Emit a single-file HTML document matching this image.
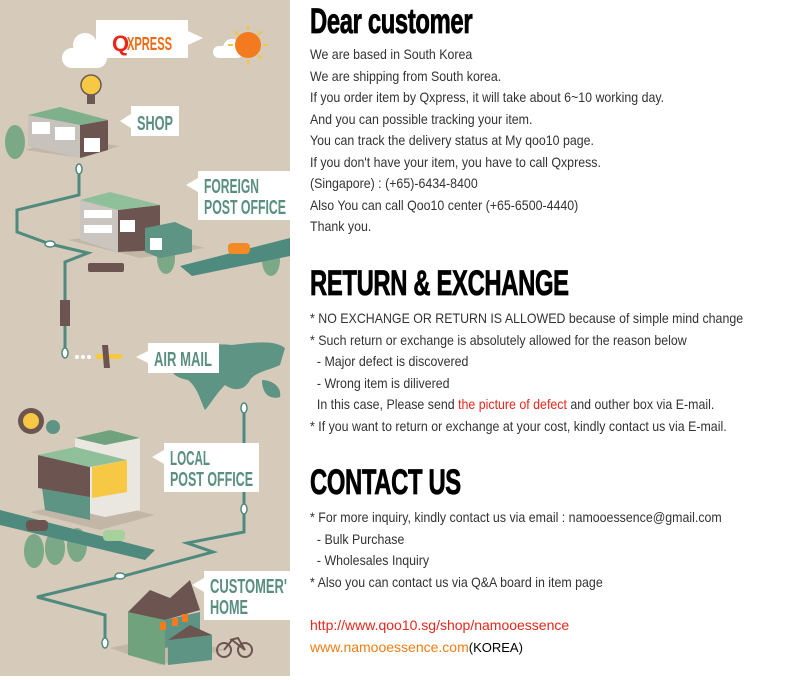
<!DOCTYPE html>
<html><head><meta charset="utf-8">
<style>
html,body{margin:0;padding:0;background:#fff;}
body{width:800px;height:676px;position:relative;overflow:hidden;font-family:"Liberation Sans",sans-serif;}
#left{position:absolute;left:0;top:0;width:290px;height:676px;background:#d6cbba;}
.h{position:absolute;left:310px;font-family:"Liberation Sans",sans-serif;font-weight:bold;font-size:35px;line-height:40px;color:#000;transform:scaleX(0.68);transform-origin:left top;white-space:nowrap;letter-spacing:-0.5px;-webkit-text-stroke:0.8px #000;}
.t{position:absolute;left:310px;font-size:14px;line-height:21.5px;color:#333;white-space:pre;transform:scaleX(0.885);transform-origin:left top;}
.red{color:#e8261a}
.or{color:#ef7d12}
</style></head><body>
<div id="left">
<svg width="290" height="676" viewBox="0 0 290 676" xmlns="http://www.w3.org/2000/svg">
<g fill="#5e9484"><path d="M170,362 C180,350 205,342 232,345 C255,342 275,340 285,348 L280,365 C270,370 255,372 250,380 C245,390 235,392 225,385 C215,395 210,405 205,410 C200,400 198,388 188,380 C178,378 170,375 170,362Z"/><path d="M262,380 C272,380 282,387 280,397 C270,400 262,394 262,380Z"/></g>
<g fill="none" stroke="#4f8a7f" stroke-width="3">
<polyline points="79,172 79,195 17,210 17,232 50,244 88,253 65,262 65,352"/>
<polyline points="244,410 244,532 187,543 213,552 120,577 37,597 105,615 105,643"/>
</g>
<g fill="#fff" stroke="#4f8a7f" stroke-width="1.5">
<ellipse cx="79" cy="169" rx="3" ry="5"/>
<ellipse cx="50" cy="244" rx="5" ry="3"/>
<ellipse cx="65" cy="353" rx="3" ry="5"/>
<ellipse cx="244" cy="408" rx="3" ry="5"/>
<ellipse cx="244" cy="509" rx="3" ry="5"/>
<ellipse cx="120" cy="576" rx="5" ry="3"/>
<ellipse cx="105" cy="643" rx="3" ry="5"/>
</g>
<g fill="#fff"><circle cx="85" cy="45" r="12"/><rect x="62" y="48" width="45" height="20" rx="10"/>
<circle cx="232" cy="48" r="9"/><rect x="213" y="46" width="30" height="12" rx="6"/></g>
<circle cx="248" cy="45" r="13" fill="#f47a20"/>
<g stroke="#f5c542" stroke-width="2"><line x1="248" y1="25" x2="248" y2="30"/><line x1="248" y1="60" x2="248" y2="65"/><line x1="228" y1="45" x2="233" y2="45"/><line x1="263" y1="45" x2="268" y2="45"/><line x1="234" y1="31" x2="238" y2="35"/><line x1="258" y1="55" x2="262" y2="59"/><line x1="262" y1="31" x2="258" y2="35"/></g>
<circle cx="91" cy="85" r="10" fill="#f6c844" stroke="#6b5a54" stroke-width="1.5"/><rect x="87" y="95" width="8" height="9" fill="#6b5a54"/>
<g fill="#fff">
<rect x="96" y="20" width="92" height="38"/><polygon points="188,31 203,38 188,45"/>
<rect x="131" y="106" width="48" height="30"/><polygon points="131,114 120,121 131,128"/>
<rect x="198" y="171" width="92" height="49"/><polygon points="198,178 186,185 198,192"/>
<rect x="148" y="343" width="71" height="30"/><polygon points="148,351 136,357 148,363"/>
<rect x="164" y="443" width="95" height="49"/><polygon points="164,450 152,457 164,464"/>
<rect x="204" y="571" width="86" height="49"/><polygon points="204,578 192,585 204,592"/>
</g>
<g font-family="Liberation Sans, sans-serif" font-weight="bold" fill="#5a8f80">
<text x="112" y="51" font-size="22" fill="#e8261a">Q</text><text x="127" y="50" font-size="18" fill="#ef6a12" textLength="45" lengthAdjust="spacingAndGlyphs">XPRESS</text>
<text x="137" y="130" font-size="20" textLength="36" lengthAdjust="spacingAndGlyphs">SHOP</text>
<text x="204" y="193" font-size="20" textLength="55" lengthAdjust="spacingAndGlyphs">FOREIGN</text>
<text x="204" y="214" font-size="20" textLength="82" lengthAdjust="spacingAndGlyphs">POST OFFICE</text>
<text x="154" y="366" font-size="20" textLength="58" lengthAdjust="spacingAndGlyphs">AIR MAIL</text>
<text x="170" y="465" font-size="20" textLength="40" lengthAdjust="spacingAndGlyphs">LOCAL</text>
<text x="170" y="486" font-size="20" textLength="83" lengthAdjust="spacingAndGlyphs">POST OFFICE</text>
<text x="210" y="593" font-size="20" textLength="77" lengthAdjust="spacingAndGlyphs">CUSTOMER'</text>
<text x="210" y="614" font-size="20" textLength="38" lengthAdjust="spacingAndGlyphs">HOME</text>
</g>
<polygon points="25,150 82,158 120,146 60,138" fill="#c2b7a6"/>
<polygon points="28,115 80,125 80,158 28,146" fill="#c8c2bc"/>
<polygon points="80,125 108,120 108,150 80,158" fill="#6c5550"/>
<polygon points="28,115 60,107 108,120 80,125" fill="#7fb08c"/>
<g fill="#fff"><rect x="32" y="122" width="18" height="12"/><rect x="55" y="127" width="20" height="13"/><rect x="84" y="138" width="16" height="14"/></g>
<g fill="#7ba887"><ellipse cx="15" cy="142" rx="10" ry="17"/><ellipse cx="166" cy="258" rx="9" ry="16"/><ellipse cx="271" cy="260" rx="9" ry="16"/><ellipse cx="34" cy="551" rx="10" ry="17"/><ellipse cx="55" cy="548" rx="10" ry="17"/><ellipse cx="77" cy="545" rx="10" ry="17"/></g>
<polygon points="68,240 140,258 205,248 135,230" fill="#c2b7a6"/>
<polygon points="80,200 118,210 118,252 80,240" fill="#cbc5bf"/>
<polygon points="118,210 160,205 160,250 118,252" fill="#6c5550"/>
<polygon points="80,200 110,192 160,205 118,210" fill="#8fc09a"/>
<polygon points="145,228 175,222 192,230 192,252 160,258 145,252" fill="#5e9484"/>
<g fill="#fff"><rect x="84" y="210" width="28" height="8"/><rect x="84" y="225" width="28" height="8"/><rect x="120" y="220" width="15" height="12"/><rect x="150" y="238" width="12" height="12"/></g>
<polygon points="180,266 290,238 290,256 192,276" fill="#4f8a7f"/>
<rect x="228" y="243" width="22" height="11" rx="4" fill="#f28a25"/>
<rect x="88" y="263" width="36" height="9" rx="2" fill="#6c5550"/>
<rect x="60" y="300" width="10" height="26" fill="#6c5550"/>
<g fill="#fff"><circle cx="77" cy="357" r="2"/><circle cx="83" cy="357" r="2"/><circle cx="89" cy="357" r="2"/></g>
<rect x="96" y="354" width="26" height="5" fill="#f6c844"/><polygon points="102,345 108,345 110,368 104,368" fill="#6c5550"/>
<circle cx="31" cy="421" r="13" fill="#6c5550"/><circle cx="31" cy="421" r="8" fill="#f6c844"/><circle cx="53" cy="427" r="7" fill="#5e9484"/>
<polygon points="30,512 100,530 155,515 90,500" fill="#c2b7a6"/>
<polygon points="75,438 110,430 140,438 140,510 105,517 75,510" fill="#e9e7e0"/>
<polygon points="75,438 110,430 140,438 105,445" fill="#6fa27d"/>
<polygon points="38,458 90,470 90,520 45,510" fill="#5e9484"/>
<polygon points="38,455 90,467 90,497 38,488" fill="#6c5550"/>
<polygon points="38,455 75,447 127,460 90,467" fill="#8fc09a"/>
<polygon points="92,467 127,460 127,492 92,498" fill="#f6c844"/>
<polygon points="0,510 155,550 145,560 0,525" fill="#4f8a7f"/>
<rect x="26" y="520" width="22" height="11" rx="4" fill="#6c5550"/>
<rect x="103" y="530" width="22" height="11" rx="4" fill="#a7d19c"/>
<polygon points="110,648 160,665 225,650 170,635" fill="#c2b7a6"/>
<polygon points="128,612 165,602 165,665 128,655" fill="#6fa27d"/>
<polygon points="128,612 150,590 170,598 190,580 200,610 165,620" fill="#6c5550"/>
<polygon points="165,620 200,612 200,640 165,648" fill="#5e9484"/>
<polygon points="168,640 190,625 212,635 212,660 168,665" fill="#5e9484"/>
<polygon points="168,640 190,625 212,635" fill="#6c5550"/>
<g fill="#f47a20"><rect x="160" y="622" width="6" height="8"/><rect x="172" y="618" width="6" height="8"/><rect x="182" y="614" width="6" height="8"/></g>
<g fill="none" stroke="#6c5550" stroke-width="2"><circle cx="224" cy="650" r="7"/><circle cx="245" cy="650" r="7"/><polyline points="224,650 232,640 245,650 238,638 230,640"/></g>
</svg>
</div>

<div class="h" style="top:2px;">Dear customer</div>
<div class="t" style="top:44px;">We are based in South Korea
We are shipping from South korea.
If you order item by Qxpress, it will take about 6~10 working day.
And you can possible tracking your item.
You can track the delivery status at My qoo10 page.
If you don't have your item, you have to call Qxpress.
(Singapore) : (+65)-6434-8400
Also You can call Qoo10 center (+65-6500-4440)
Thank you.</div>

<div class="h" style="top:264px;">RETURN &amp; EXCHANGE</div>
<div class="t" style="top:308px;">* NO EXCHANGE OR RETURN IS ALLOWED because of simple mind change
* Such return or exchange is absolutely allowed for the reason below
  - Major defect is discovered
  - Wrong item is dilivered
  In this case, Please send <span class="red">the picture of defect</span> and outher box via E-mail.
* If you want to return or exchange at your cost, kindly contact us via E-mail.</div>

<div class="h" style="top:463px;">CONTACT US</div>
<div class="t" style="top:507px;">* For more inquiry, kindly contact us via email : namooessence@gmail.com
  - Bulk Purchase
  - Wholesales Inquiry
* Also you can contact us via Q&amp;A board in item page</div>

<div class="t" style="top:615px;transform:none;"><span class="red">http://www.qoo10.sg/shop/namooessence</span>
<span class="or">www.namooessence.com</span><span style="color:#000;font-size:13px;">(KOREA)</span></div>
</body></html>
